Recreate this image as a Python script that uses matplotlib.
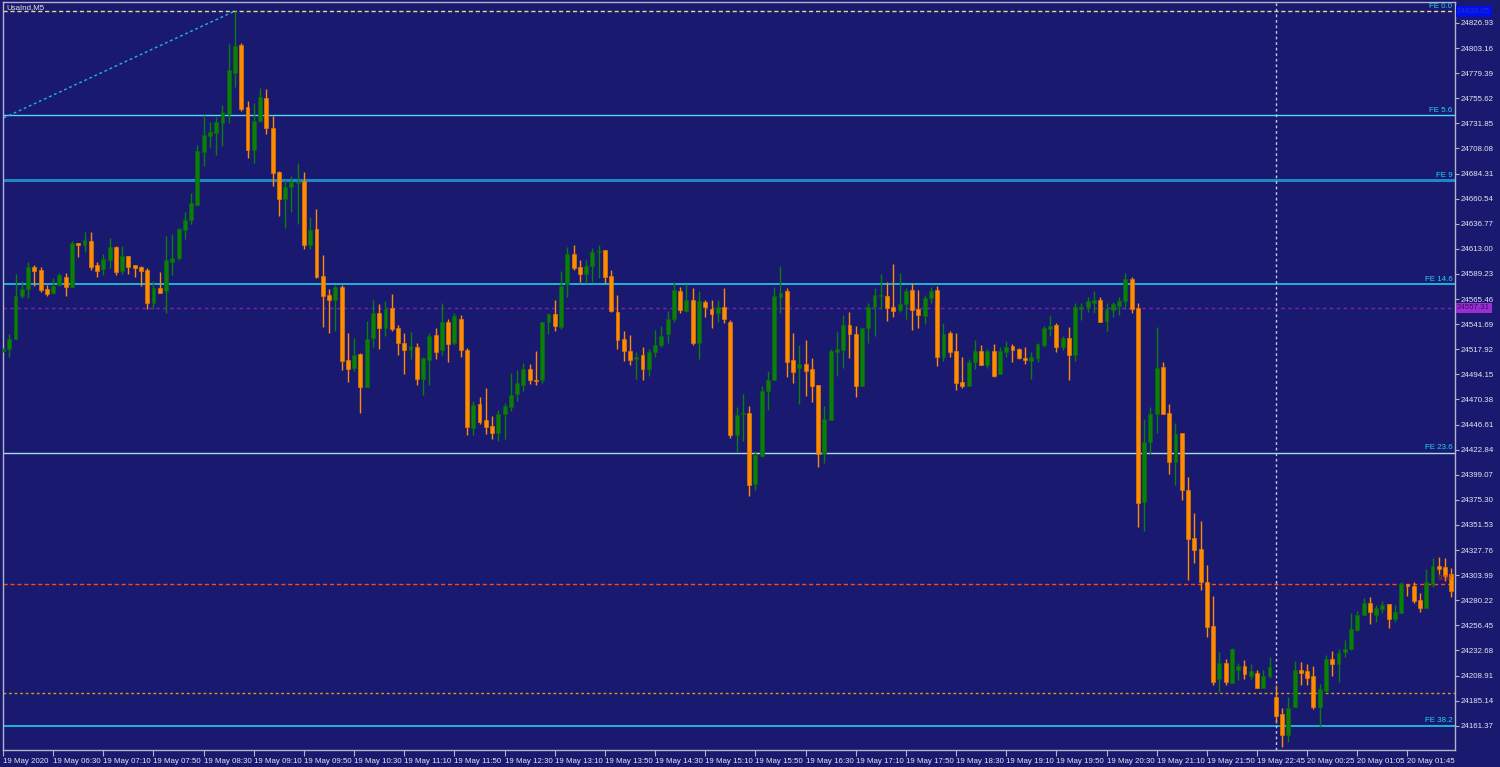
import matplotlib
matplotlib.use("Agg")
import matplotlib.pyplot as plt
import numpy as np

plt.rcParams['font.family'] = ['Liberation Sans', 'DejaVu Sans']

# ---------------- data (UsaInd, M5, 5-minute bars) ----------------
opens = [24516, 24518, 24528, 24568, 24575, 24596, 24593, 24575, 24571, 24579,
         24586, 24577, 24619, 24617, 24620, 24598, 24594, 24602, 24615, 24592,
         24606, 24598, 24596, 24593, 24562, 24576, 24573, 24601, 24604, 24631,
         24640, 24655, 24705, 24720, 24723, 24732, 24741, 24780, 24806, 24747,
         24707, 24734, 24756, 24727, 24686, 24660, 24672, 24675, 24677, 24617,
         24632, 24587, 24569, 24565, 24577, 24508, 24500, 24513, 24482, 24529,
         24552, 24538, 24557, 24538, 24524, 24517, 24520, 24490, 24508, 24531,
         24517, 24544, 24524, 24547, 24517, 24443, 24466, 24451, 24445, 24439,
         24457, 24463, 24476, 24484, 24499, 24489, 24489, 24544, 24551, 24539,
         24580, 24608, 24596, 24589, 24597, 24610, 24612, 24587, 24553, 24528,
         24516, 24509, 24512, 24499, 24515, 24522, 24532, 24547, 24573, 24554,
         24565, 24524, 24563, 24556, 24552, 24558, 24544, 24437, 24457, 24458,
         24390, 24417, 24478, 24489, 24567, 24573, 24508, 24500, 24504, 24499,
         24484, 24419, 24451, 24515, 24517, 24541, 24532, 24483, 24538, 24558,
         24568, 24568, 24558, 24555, 24561, 24574, 24556, 24549, 24566, 24574,
         24511, 24533, 24516, 24487, 24483, 24506, 24516, 24503, 24516, 24494,
         24515, 24521, 24518, 24510, 24507, 24510, 24522, 24537, 24541, 24520,
         24529, 24512, 24556, 24558, 24562, 24565, 24545, 24555, 24559, 24564,
         24584, 24557, 24373, 24430, 24457, 24501, 24458, 24411, 24439, 24385,
         24339, 24329, 24297, 24256, 24206, 24221, 24202, 24214, 24218, 24208,
         24211, 24197, 24208, 24189, 24172, 24153, 24179, 24214, 24213, 24208,
         24179, 24194, 24225, 24220, 24231, 24234, 24252, 24266, 24278, 24266,
         24272, 24277, 24262, 24268, 24296, 24294, 24280, 24273, 24296, 24313,
         24312, 24305]
highs = [24519, 24532, 24589, 24583, 24601, 24598, 24596, 24579, 24585, 24590,
         24590, 24620, 24619, 24629, 24629, 24601, 24608, 24623, 24616, 24616,
         24606, 24598, 24597, 24595, 24583, 24591, 24625, 24627, 24633, 24648,
         24666, 24711, 24740, 24733, 24738, 24749, 24807, 24838, 24808, 24753,
         24751, 24765, 24764, 24739, 24687, 24678, 24682, 24694, 24686, 24643,
         24651, 24607, 24575, 24579, 24579, 24533, 24529, 24514, 24545, 24565,
         24561, 24564, 24570, 24541, 24533, 24534, 24524, 24511, 24533, 24538,
         24562, 24547, 24552, 24550, 24519, 24469, 24473, 24481, 24455, 24460,
         24467, 24495, 24498, 24505, 24504, 24516, 24544, 24552, 24565, 24592,
         24615, 24617, 24602, 24602, 24614, 24617, 24612, 24593, 24569, 24535,
         24531, 24515, 24520, 24518, 24536, 24540, 24554, 24582, 24577, 24580,
         24576, 24573, 24565, 24565, 24565, 24576, 24546, 24463, 24476, 24464,
         24422, 24483, 24497, 24577, 24597, 24576, 24533, 24522, 24527, 24510,
         24484, 24464, 24518, 24534, 24550, 24553, 24540, 24538, 24562, 24576,
         24589, 24582, 24599, 24590, 24576, 24581, 24574, 24569, 24577, 24578,
         24543, 24535, 24533, 24511, 24509, 24527, 24522, 24518, 24523, 24520,
         24526, 24523, 24519, 24520, 24515, 24524, 24540, 24549, 24543, 24530,
         24539, 24562, 24562, 24567, 24573, 24567, 24562, 24563, 24567, 24590,
         24586, 24562, 24452, 24463, 24539, 24506, 24466, 24448, 24439, 24397,
         24363, 24355, 24314, 24284, 24231, 24225, 24235, 24221, 24224, 24220,
         24214, 24214, 24226, 24200, 24178, 24189, 24223, 24222, 24220, 24218,
         24201, 24228, 24232, 24234, 24243, 24268, 24270, 24282, 24283, 24276,
         24279, 24277, 24276, 24297, 24296, 24297, 24287, 24310, 24320, 24321,
         24320, 24311]
lows = [24515, 24511, 24528, 24566, 24566, 24578, 24572, 24568, 24570, 24578,
        24568, 24577, 24605, 24610, 24593, 24586, 24588, 24595, 24588, 24589,
        24589, 24586, 24578, 24556, 24556, 24571, 24552, 24588, 24602, 24622,
        24637, 24654, 24691, 24709, 24702, 24710, 24732, 24766, 24744, 24699,
        24694, 24733, 24722, 24673, 24644, 24633, 24648, 24637, 24613, 24613,
        24585, 24539, 24533, 24535, 24498, 24487, 24497, 24458, 24482, 24520,
        24518, 24530, 24535, 24512, 24494, 24509, 24484, 24475, 24484, 24509,
        24512, 24506, 24522, 24511, 24437, 24437, 24447, 24438, 24433, 24431,
        24433, 24459, 24469, 24478, 24485, 24484, 24486, 24532, 24535, 24537,
        24567, 24593, 24582, 24581, 24582, 24585, 24581, 24553, 24518, 24507,
        24503, 24490, 24489, 24493, 24511, 24520, 24524, 24544, 24552, 24553,
        24522, 24509, 24548, 24538, 24544, 24543, 24434, 24421, 24431, 24379,
        24385, 24416, 24460, 24489, 24552, 24492, 24486, 24466, 24474, 24468,
        24406, 24410, 24451, 24493, 24500, 24510, 24473, 24483, 24524, 24530,
        24556, 24545, 24548, 24553, 24547, 24536, 24538, 24542, 24562, 24502,
        24507, 24511, 24479, 24481, 24483, 24499, 24503, 24500, 24492, 24494,
        24511, 24506, 24509, 24504, 24490, 24506, 24520, 24530, 24515, 24517,
        24489, 24507, 24546, 24553, 24552, 24544, 24535, 24548, 24550, 24556,
        24552, 24350, 24346, 24419, 24439, 24457, 24400, 24389, 24375, 24299,
        24315, 24290, 24245, 24200, 24193, 24200, 24202, 24205, 24206, 24206,
        24197, 24197, 24207, 24164, 24141, 24146, 24179, 24200, 24200, 24177,
        24160, 24194, 24208, 24203, 24226, 24233, 24251, 24266, 24258, 24260,
        24268, 24254, 24260, 24268, 24284, 24278, 24269, 24273, 24293, 24305,
        24298, 24283]
closes = [24518, 24528, 24568, 24575, 24596, 24592, 24574, 24570, 24578, 24588,
          24577, 24619, 24617, 24621, 24596, 24592, 24603, 24615, 24591, 24606,
          24596, 24595, 24592, 24562, 24576, 24571, 24602, 24604, 24632, 24640,
          24656, 24706, 24721, 24724, 24733, 24743, 24782, 24805, 24745, 24707,
          24734, 24757, 24727, 24685, 24660, 24672, 24676, 24676, 24617, 24631,
          24586, 24568, 24565, 24577, 24507, 24499, 24512, 24482, 24528, 24552,
          24538, 24556, 24537, 24524, 24517, 24521, 24490, 24510, 24530, 24515,
          24544, 24523, 24549, 24517, 24444, 24465, 24449, 24444, 24439, 24457,
          24464, 24475, 24486, 24499, 24489, 24488, 24544, 24551, 24540, 24578,
          24608, 24595, 24589, 24597, 24610, 24611, 24586, 24554, 24527, 24516,
          24508, 24511, 24499, 24515, 24522, 24530, 24547, 24574, 24555, 24565,
          24524, 24564, 24558, 24551, 24558, 24547, 24437, 24456, 24458, 24389,
          24418, 24478, 24489, 24568, 24571, 24506, 24496, 24504, 24497, 24483,
          24419, 24452, 24516, 24518, 24541, 24532, 24483, 24538, 24558, 24569,
          24569, 24557, 24554, 24561, 24573, 24555, 24550, 24566, 24573, 24511,
          24532, 24515, 24486, 24483, 24506, 24516, 24503, 24516, 24493, 24516,
          24520, 24517, 24510, 24508, 24511, 24523, 24538, 24540, 24520, 24529,
          24512, 24558, 24558, 24564, 24565, 24544, 24556, 24561, 24564, 24584,
          24556, 24372, 24430, 24457, 24500, 24457, 24411, 24438, 24385, 24338,
          24328, 24297, 24255, 24203, 24221, 24203, 24234, 24218, 24210, 24213,
          24197, 24208, 24217, 24171, 24153, 24178, 24214, 24211, 24207, 24179,
          24196, 24225, 24220, 24230, 24234, 24253, 24266, 24278, 24269, 24273,
          24276, 24262, 24269, 24296, 24294, 24279, 24273, 24297, 24313, 24310,
          24303, 24289]

time_labels = ["19 May 2020", "19 May 06:30", "19 May 07:10", "19 May 07:50",
               "19 May 08:30", "19 May 09:10", "19 May 09:50", "19 May 10:30",
               "19 May 11:10", "19 May 11:50", "19 May 12:30", "19 May 13:10",
               "19 May 13:50", "19 May 14:30", "19 May 15:10", "19 May 15:50",
               "19 May 16:30", "19 May 17:10", "19 May 17:50", "19 May 18:30",
               "19 May 19:10", "19 May 19:50", "19 May 20:30", "19 May 21:10",
               "19 May 21:50", "19 May 22:45", "20 May 00:25", "20 May 01:05",
               "20 May 01:45"]
label_step = 8  # one time label every 8 bars

price_ticks = [24161.37, 24185.14, 24208.91, 24232.68, 24256.45, 24280.22,
               24303.99, 24327.76, 24351.53, 24375.30, 24399.07, 24422.84,
               24446.61, 24470.38, 24494.15, 24517.92, 24541.69, 24565.46,
               24589.23, 24613.00, 24636.77, 24660.54, 24684.31, 24708.08,
               24731.85, 24755.62, 24779.39, 24803.16, 24826.93]

fe_names = ["FE 0.0", "FE 5.6", "FE 9", "FE 14.6", "FE 23.6", "FE 38.2"]
fe_levels = [24838.3, 24739.8, 24678.2, 24579.7, 24419.9, 24161.37]

purple_level = 24557.31
red_level = 24295.6
red_text = "9.02"
orange_level = 24192.6
top_price_label = "24838.05"
fibo_line_x = [0.1, 37]
fibo_line_y = [24737.0, 24838.3]
vline_bar = 203

# ---------------- style ----------------
BG = "#191970"
UP = "#0a800a"
DOWN = "#ff8c00"
TXT = "#e6e6f0"
SPINE = "#b4b4c8"
FS = 5.7

fig = plt.figure(figsize=(15, 7.67), dpi=100, facecolor=BG)
ax = fig.add_axes([3 / 1500, 17 / 767, (1454.5 - 3) / 1500, (765 - 17) / 767])
ax.set_facecolor(BG)

n = len(opens)
idx = np.arange(n)
o = np.array(opens, float)
h = np.array(highs, float)
l = np.array(lows, float)
c = np.array(closes, float)
up = c >= o

# wicks
ax.vlines(idx[up], l[up], h[up], color=UP, lw=1.0, zorder=3)
ax.vlines(idx[~up], l[~up], h[~up], color=DOWN, lw=1.0, zorder=3)
# bodies
bottom = np.minimum(o, c)
height = np.maximum(np.abs(c - o), 0.8)
ax.bar(idx[up], height[up], bottom=bottom[up], width=0.62, color=UP,
       edgecolor="#0b6a0b", linewidth=0.5, zorder=4)
ax.bar(idx[~up], height[~up], bottom=bottom[~up], width=0.62, color=DOWN,
       edgecolor="#e07800", linewidth=0.5, zorder=4)

# limits
ax.set_xlim(0.1, 231.5)
ax.set_ylim(24138.35, 24846.8)

# horizontal lines / objects
fe_colors = ["#e8dc78", "#56d4f0", "#1e88c4", "#22dcf0", "#a8d8f0", "#22dcf0"]
fe_widths = [1.0, 1.0, 2.2, 1.1, 1.0, 1.1]
for name, lev, col, lw in zip(fe_names, fe_levels, fe_colors, fe_widths):
    if name == "FE 0.0":
        ax.axhline(lev, color=col, lw=lw, dashes=(3, 2), zorder=2)
    else:
        ax.axhline(lev, color=col, lw=lw, zorder=2)
    ax.text(0.9985, lev + 1.2, name, transform=ax.get_yaxis_transform(),
            ha="right", va="bottom", color="#20d8f0", fontsize=FS, zorder=6)

ax.axhline(purple_level, color="#7a22b8", lw=1.0, dashes=(2.5, 2.5), zorder=2)
ax.axhline(red_level, color="#ff4a10", lw=1.0, dashes=(3, 2), zorder=2)
ax.axhline(orange_level, color="#c8a020", lw=1.0, dashes=(2, 2), zorder=2)
ax.plot(fibo_line_x, fibo_line_y, color="#26b4e0", lw=1.0, dashes=(2, 2), zorder=2)
ax.axvline(vline_bar, color="#c8c8dc", lw=1.0, dashes=(2, 2), zorder=2)

ax.text(0.9992, red_level + 5, red_text, transform=ax.get_yaxis_transform(),
        ha="right", va="center", color="#c83214", fontsize=FS, zorder=6)

# price boxes on the right scale
ax.text(1.0018, fe_levels[0] - 0.5, top_price_label, transform=ax.get_yaxis_transform(),
        ha="left", va="center", color="#2a2ad8", fontsize=FS, clip_on=False,
        bbox=dict(boxstyle="square,pad=0.2", facecolor="#0010e8", edgecolor="none"))
ax.text(1.0018, purple_level, f"{purple_level:.2f}", transform=ax.get_yaxis_transform(),
        ha="left", va="center", color="#3c0a6a", fontsize=FS, clip_on=False,
        bbox=dict(boxstyle="square,pad=0.2", facecolor="#9a2ed0", edgecolor="none"))

# title
ax.text(0.0025, 0.997, "UsaInd,M5", transform=ax.transAxes, ha="left", va="top",
        color=TXT, fontsize=FS, zorder=6)

# axes
ax.yaxis.tick_right()
ax.set_yticks(price_ticks)
ax.set_yticklabels([f"{v:.2f}" for v in price_ticks])
ax.tick_params(axis="y", colors=SPINE, labelcolor=TXT, labelsize=FS, length=3,
               width=0.8, pad=1.2, direction="out")
tick_pos = [i * label_step for i in range(len(time_labels))]
ax.set_xticks(tick_pos)
ax.set_xticklabels(time_labels)
ax.tick_params(axis="x", colors=SPINE, labelcolor=TXT, labelsize=FS, length=4,
               width=0.8, pad=1.5, direction="out")
for lbl in ax.get_xticklabels():
    lbl.set_ha("left")
for sp in ax.spines.values():
    sp.set_color(SPINE)
    sp.set_linewidth(1.0)

fig.savefig("out.png", dpi=100, facecolor=BG)
